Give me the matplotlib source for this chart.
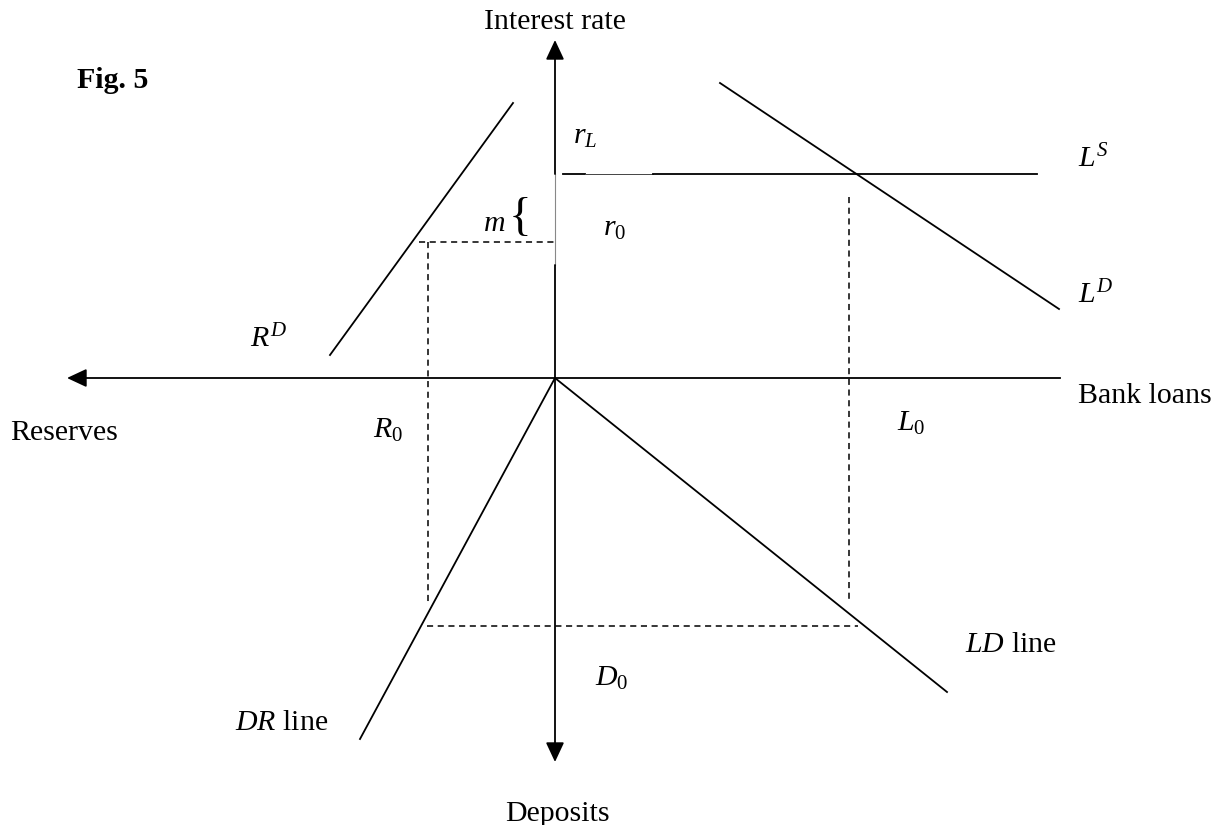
import matplotlib.pyplot as plt

plt.rcParams['font.family'] = 'Liberation Serif'
plt.rcParams['mathtext.fontset'] = 'custom'
plt.rcParams['mathtext.rm'] = 'Liberation Serif'
plt.rcParams['mathtext.it'] = 'Liberation Serif:italic'

# diagram drawn in pixel units, y pointing down
origin = (555, 378)
x_axis_right = 1060
x_axis_tip = 67
y_axis_top = 40
y_axis_bottom = 762
gap_top, gap_bottom = 174, 265   # thin grey piece of the rate axis

# curves as (x0, x1), (y0, y1)
RD_x, RD_y = [330, 513], [355, 103]
LD_x, LD_y = [720, 1059], [83, 309]
LS_x, LS_y = [563, 585, 653, 1037], 174   # middle piece is drawn thin
DR_x, DR_y = [555, 360], [378, 739]
LDline_x, LDline_y = [555, 947], [378, 692]

# dashed guides
r0_x, r0_y = [419, 555], [242, 242]
R0_x, R0_y = [428, 428], [242, 605]
L0_x, L0_y = [849, 849], [197, 600]
D0_x, D0_y = [427, 858], [626, 626]

fig = plt.figure(figsize=(12.21, 8.25), dpi=100)
ax = fig.add_axes([0, 0, 1, 1])
ax.set_xlim(0, 1221)
ax.set_ylim(825, 0)
ax.axis('off')

lw = 1.3
arrow = dict(arrowstyle='-|>,head_length=0.6,head_width=0.28', mutation_scale=20,
             lw=lw, color='black', shrinkA=0, shrinkB=0)

# axes
ax.plot([x_axis_right, origin[0]], [origin[1], origin[1]], color='black', lw=lw)
ax.annotate('', xy=(x_axis_tip, origin[1]), xytext=(origin[0], origin[1]), arrowprops=arrow)
ax.annotate('', xy=(origin[0], y_axis_top), xytext=(origin[0], gap_top), arrowprops=arrow)
ax.plot([origin[0], origin[0]], [gap_top, gap_bottom], color='#888888', lw=0.8)
ax.annotate('', xy=(origin[0], y_axis_bottom), xytext=(origin[0], gap_bottom), arrowprops=arrow)

# curves
ax.plot(RD_x, RD_y, color='black', lw=lw)
ax.plot(LD_x, LD_y, color='black', lw=lw)
ax.plot(LS_x[0:2], [LS_y, LS_y], color='black', lw=lw)
ax.plot(LS_x[1:3], [LS_y, LS_y], color='#444444', lw=0.7)
ax.plot(LS_x[2:4], [LS_y, LS_y], color='black', lw=lw)
ax.plot(DR_x, DR_y, color='black', lw=lw)
ax.plot(LDline_x, LDline_y, color='black', lw=lw)

for xs, ys in [(r0_x, r0_y), (R0_x, R0_y), (L0_x, L0_y), (D0_x, D0_y)]:
    ax.plot(xs, ys, color='black', lw=1.1, ls=(0, (4, 3)))

fs = 21.5
ax.text(555, 29, 'Interest rate', fontsize=fs, ha='center', va='baseline')
ax.text(77, 88, 'Fig. 5', fontsize=fs, fontweight='bold', ha='left', va='baseline')
ax.text(573, 144, r'$r_L$', fontsize=fs, ha='left', va='baseline')
ax.text(1078, 167, r'$L^S$', fontsize=fs, ha='left', va='baseline')
ax.text(1078, 303, r'$L^D$', fontsize=fs, ha='left', va='baseline')
ax.text(483, 231, r'$m$', fontsize=fs, ha='left', va='baseline')
ax.text(520, 219, '{', fontsize=34, ha='center', va='center')
ax.text(603, 236, r'$r_\mathit{0}$', fontsize=fs, ha='left', va='baseline')
ax.text(250, 347, r'$R^D$', fontsize=fs, ha='left', va='baseline')
ax.text(1078, 403, 'Bank loans', fontsize=fs, ha='left', va='baseline')
ax.text(10, 440, 'Reserves', fontsize=fs, ha='left', va='baseline')
ax.text(373, 438, r'$R_\mathit{0}$', fontsize=fs, ha='left', va='baseline')
ax.text(897, 431, r'$L_\mathit{0}$', fontsize=fs, ha='left', va='baseline')
ax.text(595, 686, r'$D_\mathit{0}$', fontsize=fs, ha='left', va='baseline')
ax.text(965, 652, r'$LD$ line', fontsize=fs, ha='left', va='baseline')
ax.text(328, 730, r'$DR$ line', fontsize=fs, ha='right', va='baseline')
ax.text(557, 821, 'Deposits', fontsize=fs, ha='center', va='baseline')

fig.savefig('out.png', dpi=100)
